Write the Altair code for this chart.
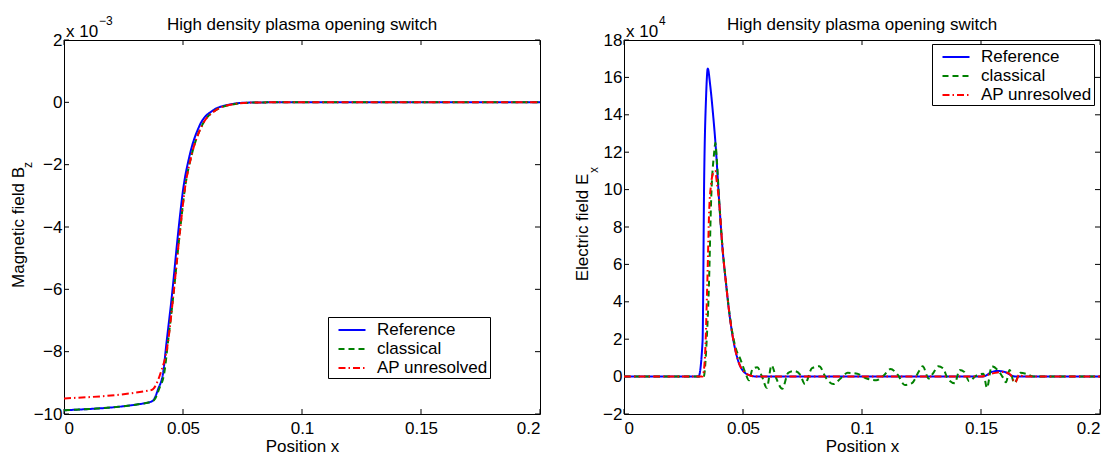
import altair as alt
import pandas as pd

FONT = "Liberation Sans"
W, H = 476, 374
TICK = 5

SERIES = ["Reference", "classical", "AP unresolved"]
COLORS = ["#0000ff", "#008000", "#ff0000"]
DASHES = [[1, 0], [6, 4], [7, 3, 1.5, 3]]

# ---------------- Left panel: magnetic field Bz (x 1e-3) ----------------
bz_ref_x = [0.0, 0.035, 0.0375, 0.0396, 0.0417, 0.0431, 0.0452, 0.048, 0.0501, 0.0528,
            0.057, 0.0626, 0.0696, 0.077, 0.09, 0.2]
bz_ref_y = [-9.88, -9.64, -9.56, -9.19, -8.65, -7.69, -6.3, -4.16, -2.77, -1.70,
            -0.74, -0.26, -0.07, -0.01, 0.0, 0.0]
bz_cls_x = [0.0, 0.035, 0.0378, 0.0400, 0.0422, 0.0437, 0.0458, 0.0487, 0.0508, 0.0536,
            0.058, 0.0636, 0.0705, 0.078, 0.09, 0.2]
bz_cls_y = [-9.88, -9.64, -9.56, -9.19, -8.65, -7.69, -6.3, -4.16, -2.77, -1.70,
            -0.74, -0.26, -0.07, -0.01, 0.0, 0.0]
bz_ap_x = [0.0, 0.0368, 0.0403, 0.0437, 0.0458, 0.0487, 0.0508, 0.0536,
           0.058, 0.0636, 0.0705, 0.078, 0.09, 0.2]
bz_ap_y = [-9.5, -9.23, -8.75, -7.69, -6.3, -4.16, -2.77, -1.70,
           -0.74, -0.26, -0.07, -0.01, 0.0, 0.0]

# ---------------- Right panel: electric field Ex (x 1e4) ----------------
ex_ref_x = [0.0, 0.0313, 0.033, 0.0337, 0.0345, 0.0352, 0.0362, 0.0372, 0.0386, 0.040,
            0.0414, 0.0428, 0.0442, 0.0456, 0.0477, 0.0504, 0.0533, 0.056, 0.15, 0.152,
            0.1545, 0.157, 0.16, 0.163, 0.165, 0.2]
ex_ref_y = [0.0, 0.0, 1.85, 10.76, 15.0, 16.47, 15.6, 14.33, 12.19, 9.34,
            6.84, 5.06, 3.45, 2.2, 0.96, 0.25, 0.05, 0.0, 0.0, 0.05,
            0.25, 0.3, 0.25, 0.05, 0.0, 0.0]
ex_cls_x = [0.0, 0.0335, 0.0347, 0.0358, 0.0365, 0.0379, 0.0384, 0.039, 0.040,
            0.0414, 0.0428, 0.0442, 0.0456, 0.047, 0.049, 0.051, 0.0525, 0.054, 0.056,
            0.058, 0.060, 0.062, 0.064, 0.0665, 0.069, 0.0715, 0.074, 0.076, 0.079,
            0.082, 0.085, 0.088, 0.091, 0.094, 0.098, 0.102, 0.106, 0.109, 0.112,
            0.115, 0.118, 0.121, 0.124, 0.1255, 0.128, 0.130, 0.132, 0.134, 0.136,
            0.139, 0.141, 0.143, 0.145, 0.148, 0.151, 0.1525, 0.1545, 0.157, 0.159,
            0.1605, 0.162, 0.164, 0.1665, 0.169, 0.172, 0.2]
ex_cls_y = [0.0, 0.0, 1.85, 5.4, 9.0, 12.0, 12.5, 11.6, 9.4,
            6.9, 5.1, 3.5, 2.3, 1.5, 0.9, 0.2, -0.2, 0.4, 0.5,
            0.0, -0.6, 0.6, -0.1, -0.65, 0.2, 0.3, 0.1, -0.4, 0.45,
            0.55, -0.1, -0.4, -0.1, 0.2, 0.15, -0.1, -0.2, 0.05, 0.4,
            0.1, -0.45, -0.35, 0.3, 0.55, -0.1, 0.2, 0.55, 0.45, -0.1,
            -0.35, 0.35, 0.25, -0.25, 0.05, 0.15, -0.6, 0.55, 0.35, 0.0,
            -0.3, 0.35, -0.35, 0.2, 0.15, 0.0, 0.0]
ex_ap_x = [0.0, 0.033, 0.034, 0.035, 0.0358, 0.0366, 0.0375, 0.0383, 0.039, 0.040,
           0.0414, 0.0428, 0.0442, 0.0456, 0.0477, 0.0504, 0.0533, 0.056, 0.15, 0.153,
           0.156, 0.159, 0.162, 0.1645, 0.166, 0.168, 0.2]
ex_ap_y = [0.0, 0.0, 1.0, 5.0, 8.9, 10.3, 10.9, 11.0, 10.4, 9.3,
           6.84, 5.06, 3.45, 2.2, 0.96, 0.25, 0.05, 0.0, 0.0, 0.1,
           0.2, 0.25, 0.15, -0.3, 0.1, 0.0, 0.0]

# ticks
x_ticks = [0, 0.05, 0.1, 0.15, 0.2]
bz_ticks = [-10, -8, -6, -4, -2, 0, 2]
ex_ticks = [-2, 0, 2, 4, 6, 8, 10, 12, 14, 16, 18]


def series_df(triples):
    rows = []
    for name, xs, ys in triples:
        for i, (a, b) in enumerate(zip(xs, ys)):
            rows.append({"x": a, "y": b, "series": name, "i": i})
    return pd.DataFrame(rows)


def text_layer(txt, x, y, size, angle=0, align="left", baseline="alphabetic"):
    return alt.Chart(pd.DataFrame({"t": [txt]})).mark_text(
        font=FONT, fontSize=size, angle=angle, align=align, baseline=baseline, color="black"
    ).encode(text="t:N", x=alt.value(x), y=alt.value(y))


def panel(df, ylabel, ysub, ytick_vals, ydomain, exponent, legend_xy, sub_xy, ytp):
    xscale = alt.Scale(domain=[0, 0.2], nice=False, zero=False)
    yscale = alt.Scale(domain=ydomain, nice=False, zero=False)
    xaxis = alt.Axis(values=x_ticks, format=".2~f", title="Position x")
    yaxis = alt.Axis(values=ytick_vals, format="d", title=ylabel, titlePadding=ytp)
    leg = alt.Legend(
        title=None, orient="none", legendX=legend_xy[0], legendY=legend_xy[1],
        symbolType="M-1.35,0H1.35", symbolSize=400, symbolStrokeWidth=2, symbolOffset=11,
        labelFont=FONT, labelFontSize=17, labelColor="black", labelOffset=14,
        labelExpr="datum.label + '  '",
        strokeColor="black", fillColor="white", padding=2, rowPadding=0,
    )
    lines = alt.Chart(df).mark_line(strokeWidth=2, interpolate="monotone").encode(
        x=alt.X("x:Q", scale=xscale, axis=xaxis),
        y=alt.Y("y:Q", scale=yscale, axis=yaxis),
        color=alt.Color("series:N", scale=alt.Scale(domain=SERIES, range=COLORS), legend=leg),
        strokeDash=alt.StrokeDash("series:N", scale=alt.Scale(domain=SERIES, range=DASHES), legend=leg),
        order="i:Q",
    )
    xt = pd.DataFrame({"v": x_ticks})
    yt = pd.DataFrame({"v": ytick_vals})
    xb = alt.Chart(xt).mark_rule(color="black", strokeWidth=1).encode(
        x=alt.X("v:Q", scale=xscale, axis=xaxis), y=alt.value(H), y2=alt.value(H - TICK))
    xtp = alt.Chart(xt).mark_rule(color="black", strokeWidth=1).encode(
        x=alt.X("v:Q", scale=xscale, axis=xaxis), y=alt.value(0), y2=alt.value(TICK))
    yl = alt.Chart(yt).mark_rule(color="black", strokeWidth=1).encode(
        y=alt.Y("v:Q", scale=yscale, axis=yaxis), x=alt.value(0), x2=alt.value(TICK))
    yr = alt.Chart(yt).mark_rule(color="black", strokeWidth=1).encode(
        y=alt.Y("v:Q", scale=yscale, axis=yaxis), x=alt.value(W), x2=alt.value(W - TICK))
    title = text_layer("High density plasma opening switch", W / 2, -10, 17, align="center")
    x10 = text_layer("x 10", 2, -3, 17)
    sup = text_layer(exponent, 35, -15, 12)
    sub = text_layer(ysub, sub_xy[0], sub_xy[1], 12, angle=270, align="left", baseline="middle")
    return alt.layer(xb, xtp, yl, yr, lines, title, x10, sup, sub).properties(width=W, height=H)


bz_df = series_df([("Reference", bz_ref_x, bz_ref_y),
                   ("classical", bz_cls_x, bz_cls_y),
                   ("AP unresolved", bz_ap_x, bz_ap_y)])
ex_df = series_df([("Reference", ex_ref_x, ex_ref_y),
                   ("classical", ex_cls_x, ex_cls_y),
                   ("AP unresolved", ex_ap_x, ex_ap_y)])

left = panel(bz_df, "Magnetic field B", "z", bz_ticks, [-10, 2], "\u22123", (264, 277), (-36, 128), 6)
right = panel(ex_df, "Electric field E", "x", ex_ticks, [-2, 18], "4", (308, 4), (-30, 133), 11)

chart = alt.hconcat(left, right, spacing=84, bounds="flush").resolve_legend(
    color="independent", strokeDash="independent"
).properties(
    padding={"left": 0, "top": 6, "right": 0, "bottom": 0}
).configure_view(stroke="black", strokeWidth=1).configure_axis(
    labelFont=FONT, labelFontSize=17, labelColor="black", titleFont=FONT,
    titleFontSize=17, titleFontWeight="normal", titleColor="black",
    ticks=False, domain=False, grid=False,
).configure_axisX(labelPadding=6, titlePadding=2).configure_axisY(labelPadding=2)

chart.save("out.html", embed_options={"renderer": "svg", "actions": False})
